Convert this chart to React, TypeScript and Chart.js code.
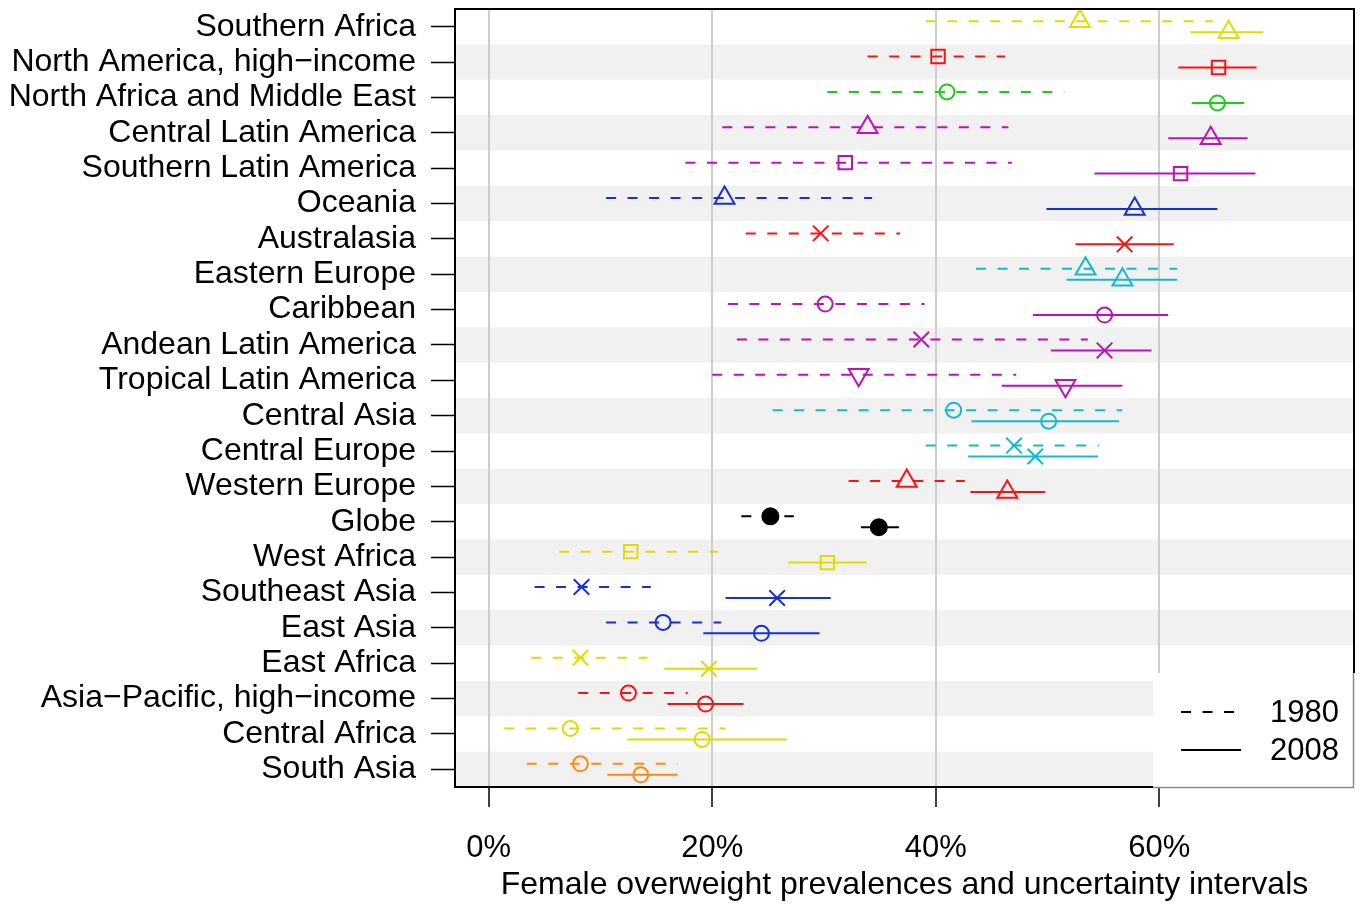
import { useEffect, useRef } from "react";
import { Chart, registerables } from "chart.js";

Chart.register(...registerables);

// Regions, top to bottom
const regions = [
  "Southern Africa",
  "North America, high\u2212income",
  "North Africa and Middle East",
  "Central Latin America",
  "Southern Latin America",
  "Oceania",
  "Australasia",
  "Eastern Europe",
  "Caribbean",
  "Andean Latin America",
  "Tropical Latin America",
  "Central Asia",
  "Central Europe",
  "Western Europe",
  "Globe",
  "West Africa",
  "Southeast Asia",
  "East Asia",
  "East Africa",
  "Asia\u2212Pacific, high\u2212income",
  "Central Africa",
  "South Asia",
];

// Female overweight prevalence (%), 1980: estimate and uncertainty interval
const prev1980 = [52.9, 40.2, 41.0, 33.9, 31.9, 21.1, 29.7, 53.4, 30.1, 38.7, 33.1, 41.6, 47.0, 37.4, 25.2, 12.7, 8.3, 15.6, 8.2, 12.5, 7.3, 8.2];
const low1980 = [39.1, 33.9, 30.3, 20.9, 17.6, 10.5, 23.0, 43.6, 21.4, 22.2, 20.0, 25.4, 39.1, 32.2, 22.6, 6.3, 4.1, 10.5, 3.8, 8.0, 1.4, 3.4];
const high1980 = [64.8, 46.2, 51.5, 46.5, 46.8, 34.3, 36.8, 61.6, 39.0, 53.6, 47.2, 56.7, 54.6, 42.6, 27.3, 20.5, 14.5, 20.8, 14.2, 17.8, 21.2, 16.9];

// Female overweight prevalence (%), 2008: estimate and uncertainty interval
const prev2008 = [66.2, 65.3, 65.2, 64.6, 61.9, 57.8, 56.9, 56.7, 55.1, 55.1, 51.6, 50.1, 48.9, 46.4, 34.9, 30.3, 25.8, 24.4, 19.7, 19.4, 19.1, 13.6];
const low2008 = [62.8, 61.7, 62.9, 60.8, 54.2, 49.9, 52.5, 51.7, 48.7, 50.3, 45.9, 43.2, 42.9, 43.1, 33.3, 26.8, 21.2, 19.2, 15.7, 16.0, 12.4, 10.6];
const high2008 = [69.3, 68.7, 67.6, 67.9, 68.6, 65.2, 61.3, 61.6, 60.8, 59.3, 56.7, 56.4, 54.5, 49.8, 36.7, 33.8, 30.6, 29.6, 24.0, 22.8, 26.7, 16.9];

const xTicks = [0, 20, 40, 60];
const years = ["1980", "2008"];

// Drawing style per region
const YELLOW = "#E3DA00";
const RED = "#FF1010";
const GREEN = "#16D016";
const MAGENTA = "#BE10BE";
const BLUE = "#1530D6";
const CYAN = "#15B8CE";
const ORANGE = "#FF8A10";
const BLACK = "#000000";

const regionColors = [
  YELLOW, RED, GREEN, MAGENTA, MAGENTA, BLUE, RED, CYAN, MAGENTA, MAGENTA, MAGENTA,
  CYAN, CYAN, RED, BLACK, YELLOW, BLUE, BLUE, YELLOW, RED, YELLOW, ORANGE,
];
const regionMarkers = [
  "up", "square", "circle", "up", "square", "up", "x", "up", "circle", "x", "down",
  "circle", "x", "up", "dot", "square", "x", "circle", "x", "circle", "circle", "circle",
];

const FONT = "'Liberation Sans', Arial, Helvetica, sans-serif";
const DASH = [10, 11.5];
const YEAR_SHIFT = 0.155;

function markerStyle(kind: string) {
  switch (kind) {
    case "up":
      return { pointStyle: "triangle", radius: 11.5, rotation: 0, filled: false };
    case "down":
      return { pointStyle: "triangle", radius: 11.5, rotation: 180, filled: false };
    case "square":
      return { pointStyle: "rect", radius: 9.5, rotation: 0, filled: false };
    case "x":
      return { pointStyle: "crossRot", radius: 11, rotation: 0, filled: false };
    case "dot":
      return { pointStyle: "circle", radius: 8, rotation: 0, filled: true };
    default:
      return { pointStyle: "circle", radius: 7.5, rotation: 0, filled: false };
  }
}

function buildDatasets() {
  const sets: any[] = [];
  regions.forEach((_, i) => {
    const color = regionColors[i];
    const m = markerStyle(regionMarkers[i]);
    const series = [
      { lo: low1980[i], mid: prev1980[i], hi: high1980[i], y: i - YEAR_SHIFT, dash: DASH },
      { lo: low2008[i], mid: prev2008[i], hi: high2008[i], y: i + YEAR_SHIFT, dash: [] as number[] },
    ];
    series.forEach((s) => {
      sets.push({
        data: [
          { x: s.lo, y: s.y },
          { x: s.mid, y: s.y },
          { x: s.hi, y: s.y },
        ],
        showLine: true,
        borderColor: color,
        borderWidth: 2,
        borderDash: s.dash,
        pointRadius: [0, m.radius, 0],
        pointHoverRadius: [0, m.radius, 0],
        pointStyle: m.pointStyle,
        rotation: m.rotation,
        pointBorderColor: color,
        pointBackgroundColor: m.filled ? color : "rgba(0,0,0,0)",
        pointBorderWidth: 2,
        fill: false,
      });
    });
  });
  return sets;
}

// Alternating grey bands behind every other region
const bandsPlugin = {
  id: "rowBands",
  beforeDraw(chart: any) {
    const { ctx, chartArea } = chart;
    const y = chart.scales.y;
    ctx.save();
    ctx.fillStyle = "#F1F1F1";
    regions.forEach((_, i) => {
      if (i % 2 === 1) {
        const top = y.getPixelForValue(i - 0.5);
        const bottom = y.getPixelForValue(i + 0.5);
        ctx.fillRect(chartArea.left, top, chartArea.right - chartArea.left, bottom - top);
      }
    });
    ctx.restore();
  },
};

// Box around the plotting region
const framePlugin = {
  id: "plotFrame",
  afterDatasetsDraw(chart: any) {
    const { ctx, chartArea } = chart;
    ctx.save();
    ctx.strokeStyle = "#000";
    ctx.lineWidth = 2;
    ctx.strokeRect(chartArea.left, chartArea.top, chartArea.right - chartArea.left, chartArea.bottom - chartArea.top);
    ctx.restore();
  },
};

// Line-type key in the lower right corner
const keyPlugin = {
  id: "yearKey",
  afterDraw(chart: any) {
    const { ctx, chartArea } = chart;
    const right = chartArea.right;
    const bottom = chartArea.bottom;
    const left = right - 201;
    const top = bottom - 114;
    ctx.save();
    ctx.fillStyle = "#FFFFFF";
    ctx.fillRect(left, top, right - left + 1, bottom - top + 1);
    ctx.strokeStyle = "#8A8A8A";
    ctx.lineWidth = 1.5;
    ctx.beginPath();
    ctx.moveTo(right - 0.5, top);
    ctx.lineTo(right - 0.5, bottom + 0.5);
    ctx.lineTo(left, bottom + 0.5);
    ctx.stroke();

    ctx.strokeStyle = "#000";
    ctx.lineWidth = 2;
    const rows = [top + 39, top + 77];
    ctx.setLineDash(DASH);
    ctx.beginPath();
    ctx.moveTo(left + 28, rows[0]);
    ctx.lineTo(left + 81, rows[0]);
    ctx.stroke();
    ctx.setLineDash([]);
    ctx.beginPath();
    ctx.moveTo(left + 28, rows[1]);
    ctx.lineTo(left + 88, rows[1]);
    ctx.stroke();

    ctx.fillStyle = "#000";
    ctx.font = `31px ${FONT}`;
    ctx.textAlign = "left";
    ctx.textBaseline = "middle";
    ctx.fillText(years[0], left + 117, rows[0] + 1);
    ctx.fillText(years[1], left + 117, rows[1] + 1);
    ctx.restore();
  },
};

export default function App() {
  const canvasRef = useRef<HTMLCanvasElement | null>(null);

  useEffect(() => {
    if (!canvasRef.current) return;
    Chart.defaults.font.family = FONT;
    const chart = new Chart(canvasRef.current, {
      type: "scatter",
      data: { datasets: buildDatasets() },
      plugins: [bandsPlugin, framePlugin, keyPlugin],
      options: {
        animation: false,
        responsive: false,
        events: [],
        layout: { padding: { top: 9, right: 8, bottom: 0, left: 0 } },
        plugins: {
          legend: { display: false },
          tooltip: { enabled: false },
        },
        scales: {
          x: {
            type: "linear",
            min: -3.02,
            max: 77.42,
            afterBuildTicks: (scale: any) => {
              scale.ticks = xTicks.map((v) => ({ value: v }));
            },
            afterFit: (scale: any) => {
              scale.height = 119;
              scale.paddingLeft = 0;
              scale.paddingRight = 0;
            },
            border: { display: false },
            grid: {
              color: "#CDCDCD",
              lineWidth: 2,
              tickColor: "#000",
              tickLength: 20,
              tickWidth: 1.5,
            },
            ticks: {
              color: "#000",
              font: { size: 31 },
              padding: 23,
              autoSkip: false,
              maxRotation: 0,
              callback: (v: any) => `${v}%`,
            },
            title: {
              display: true,
              text: "Female overweight prevalences and uncertainty intervals",
              color: "#000",
              font: { size: 32 },
              padding: { top: 0, bottom: 2 },
            },
          },
          y: {
            type: "linear",
            reverse: true,
            min: -0.5,
            max: regions.length - 0.5,
            afterBuildTicks: (scale: any) => {
              scale.ticks = regions.map((_, i) => ({ value: i }));
            },
            afterFit: (scale: any) => {
              scale.width = 455;
              scale.paddingTop = 0;
              scale.paddingBottom = 0;
            },
            border: { display: false },
            grid: {
              drawOnChartArea: false,
              tickColor: "#000",
              tickLength: 24,
              tickWidth: 1.5,
            },
            ticks: {
              color: "#000",
              font: { size: 32 },
              padding: 15,
              autoSkip: false,
              callback: (v: any) => regions[v] ?? "",
            },
          },
        },
      } as any,
    });
    return () => chart.destroy();
  }, []);

  return (
    <div style={{ position: "absolute", left: 0, top: 0, width: 1362, height: 906, background: "#fff" }}>
      <canvas ref={canvasRef} width={1362} height={906} style={{ display: "block" }} />
    </div>
  );
}
